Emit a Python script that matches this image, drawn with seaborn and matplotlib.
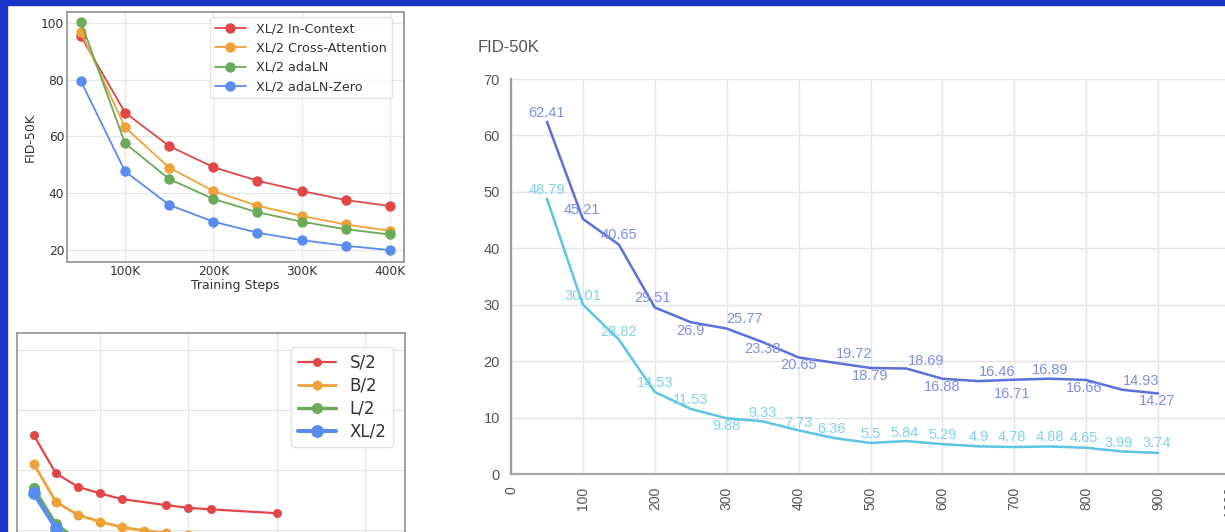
import matplotlib
matplotlib.use("Agg")
import matplotlib.pyplot as plt
import seaborn as sns
import pandas as pd
from matplotlib.patches import Rectangle

# ---------------- data ----------------
# top-left panel (training steps in K)
tl_steps = [50, 100, 150, 200, 250, 300, 350, 400]
tl_incontext = [95.3, 68.4, 56.6, 49.2, 44.4, 40.8, 37.6, 35.5]
tl_crossattn = [96.8, 63.2, 49.0, 40.8, 35.6, 32.0, 29.0, 26.8]
tl_adaln = [100.3, 57.6, 45.0, 38.0, 33.3, 30.0, 27.3, 25.5]
tl_adalnzero = [79.5, 47.7, 35.9, 30.0, 26.1, 23.5, 21.5, 20.0]
tl_names = ["XL/2 In-Context", "XL/2 Cross-Attention", "XL/2 adaLN", "XL/2 adaLN-Zero"]

# bottom-left panel (cropped)
bl_names = ["S/2", "B/2", "L/2", "XL/2"]
bl_s2_steps = [25, 50, 75, 100, 125, 175, 200, 225, 300]
bl_s2 = [111.6, 98.9, 94.4, 92.2, 90.3, 88.3, 87.4, 86.9, 85.6]
bl_b2_steps = [25, 50, 75, 100, 125, 150, 175, 200]
bl_b2 = [102.0, 89.4, 85.0, 82.8, 80.9, 79.8, 79.0, 78.3]
bl_l2_steps = [25, 50, 75, 100]
bl_l2 = [93.9, 82.0, 76.5, 74.0]
bl_xl2_steps = [25, 50, 75, 100]
bl_xl2 = [92.2, 80.6, 74.5, 71.5]

# right panel
r_steps = [50, 100, 150, 200, 250, 300, 350, 400, 450, 500,
           550, 600, 650, 700, 750, 800, 850, 900]
r_dark = [62.41, 45.21, 40.65, 29.51, 26.9, 25.77, 23.38, 20.65, 19.72, 18.79,
          18.69, 16.88, 16.46, 16.71, 16.89, 16.66, 14.93, 14.27]
r_light = [48.79, 30.01, 23.82, 14.53, 11.53, 9.88, 9.33, 7.73, 6.36, 5.5,
           5.84, 5.29, 4.9, 4.78, 4.88, 4.65, 3.99, 3.74]
r_title = "FID-50K"
r_xticks = [0, 100, 200, 300, 400, 500, 600, 700, 800, 900, 1000]
r_yticks = [0, 10, 20, 30, 40, 50, 60, 70]

# ---------------- style ----------------
sns.set_theme(style="whitegrid")
plt.rcParams["font.family"] = ["DejaVu Sans"]

W, H = 1225, 532
fig = plt.figure(figsize=(W / 100, H / 100), dpi=100)
fig.patch.set_facecolor("white")


def frac(x0, y0, x1, y1):
    return [x0 / W, 1 - y1 / H, (x1 - x0) / W, (y1 - y0) / H]


pal4 = ["#e04848", "#f0a23a", "#6aaa58", "#5a8cf0"]
frame_col = "#9a9a9a"
grid_col = "#e6e6e6"

# ---------- top-left ----------
ax1 = fig.add_axes(frac(67, 12, 404, 262))
tl_df = pd.DataFrame({
    "step": tl_steps * 4,
    "fid": tl_incontext + tl_crossattn + tl_adaln + tl_adalnzero,
    "model": sum([[n] * len(tl_steps) for n in tl_names], []),
})
sns.lineplot(data=tl_df, x="step", y="fid", hue="model", hue_order=tl_names,
             palette=pal4, marker="o", markersize=7.5, markeredgewidth=0,
             linewidth=1.3, ax=ax1)
ax1.set_xlim(34.3, 415.9)
ax1.set_ylim(15.8, 103.8)
ax1.set_xticks([100, 200, 300, 400])
ax1.set_xticklabels(["100K", "200K", "300K", "400K"])
ax1.set_yticks([20, 40, 60, 80, 100])
ax1.set_xlabel("Training Steps", fontsize=9, color="#333333", labelpad=1)
ax1.set_ylabel("FID-50K", fontsize=9, color="#333333", labelpad=3)
ax1.tick_params(labelsize=8.8, colors="#333333", length=0, pad=2)
ax1.grid(color=grid_col, linewidth=0.9)
for s in ax1.spines.values():
    s.set_color(frame_col)
    s.set_linewidth(1.3)
leg = ax1.legend(loc="upper right", fontsize=9.2, frameon=True,
                 borderaxespad=0.3, handlelength=2.4, labelspacing=0.5,
                 bbox_to_anchor=(0.975, 0.995))
leg.get_frame().set_edgecolor("#dddddd")
for t in leg.get_texts():
    t.set_color("#333333")

# ---------- bottom-left (cropped) ----------
ax2 = fig.add_axes(frac(17, 333, 405, 650))
bl_steps_all = [bl_s2_steps, bl_b2_steps, bl_l2_steps, bl_xl2_steps]
bl_vals_all = [bl_s2, bl_b2, bl_l2, bl_xl2]
bl_lw = [1.6, 2.0, 2.4, 2.9]
bl_ms = [6.5, 7.2, 8.0, 9.2]
for name, xs, ys, c, lw, ms in zip(bl_names, bl_steps_all, bl_vals_all, pal4, bl_lw, bl_ms):
    d = pd.DataFrame({"step": xs, "fid": ys})
    sns.lineplot(data=d, x="step", y="fid", color=c, marker="o", markersize=ms,
                 markeredgewidth=0, linewidth=lw, label=name, ax=ax2)
ax2.set_xlim(6, 445)
ax2.set_ylim(40, 145.7)
ax2.set_xticks([100, 200, 300, 400])
ax2.set_yticks([60, 80, 100, 120, 140])
ax2.tick_params(labelleft=False, labelbottom=False, length=0)
ax2.set_xlabel("")
ax2.set_ylabel("")
ax2.grid(color=grid_col, linewidth=0.9)
for s in ax2.spines.values():
    s.set_color(frame_col)
    s.set_linewidth(1.3)
leg2 = ax2.legend(loc="upper right", fontsize=12, frameon=True,
                  borderaxespad=0.35, handlelength=2.3, labelspacing=0.3,
                  bbox_to_anchor=(0.985, 0.975))
leg2.get_frame().set_edgecolor("#dddddd")
for t in leg2.get_texts():
    t.set_color("#333333")

# ---------- right ----------
ax3 = fig.add_axes(frac(511, 79, 1230, 474))
r_df = pd.DataFrame({
    "step": r_steps * 2,
    "fid": r_dark + r_light,
    "series": ["dark"] * len(r_steps) + ["light"] * len(r_steps),
})
line_cols = ["#5b70d8", "#5cc4e4"]
lab_cols = ["#7d90e2", "#7fd2ec"]
sns.lineplot(data=r_df, x="step", y="fid", hue="series", palette=line_cols,
             linewidth=1.8, legend=False, ax=ax3)
ax3.set_xlim(0, 1000)
ax3.set_ylim(0, 70)
ax3.set_xticks(r_xticks)
ax3.set_xticklabels([str(v) for v in r_xticks], rotation=90,
                    family=["Liberation Sans"], fontsize=10, color="#555555")
ax3.set_yticks(r_yticks)
ax3.set_yticklabels([str(v) for v in r_yticks], family=["Liberation Sans"],
                    fontsize=10.5, color="#555555")
ax3.tick_params(axis="x", length=0, pad=9)
ax3.tick_params(axis="y", length=0, pad=8)
ax3.set_xlabel("")
ax3.set_ylabel("")
ax3.set_facecolor("white")
ax3.grid(color="#e4e4ea", linewidth=1.0)
for k in ["top", "right"]:
    ax3.spines[k].set_visible(False)
ax3.spines["left"].set_color("#9a9a9a")
ax3.spines["left"].set_linewidth(1.6)
ax3.spines["bottom"].set_color("#a8a8a8")
ax3.spines["bottom"].set_linewidth(1.6)

# label offsets in pixels (dx, dy)
dark_off = [(0, 9), (-1, 9), (0, 10), (-2, 9), (0, -9), (18, 10), (0, -7), (0, -8),
            (20, 9), (0, -8), (20, 8), (0, -8), (19, 9), (-2, -14), (0, 9), (-2, -8),
            (19, 9), (-1, -8)]
light_off = [(0, 9), (0, 9), (0, 8), (0, 9), (0, 9), (0, -8), (0, 8), (0, 7),
             (-3, 9), (0, 9), (-2, 8), (0, 9), (0, 9), (-2, 10), (0, 9), (-2, 10),
             (-3, 8), (-1, 10)]
for xs, ys, offs, col in [(r_steps, r_dark, dark_off, lab_cols[0]),
                          (r_steps, r_light, light_off, lab_cols[1])]:
    for x, y, (dx, dy) in zip(xs, ys, offs):
        ax3.annotate(f"{y:g}", (x, y), xytext=(dx, dy), textcoords="offset pixels",
                     ha="center", va="center", fontsize=10.5, color=col,
                     family=["Liberation Sans"])

fig.text(478 / W, 1 - 48 / H, r_title, ha="left", va="center", fontsize=12,
         color="#555555", family=["Liberation Sans"])

# blue frame strips (top and left)
fig.patches.append(Rectangle((0, 1 - 5 / H), 1, 5 / H, transform=fig.transFigure,
                             color="#1a34c8", zorder=10))
fig.patches.append(Rectangle((0, 0), 7 / W, 1, transform=fig.transFigure,
                             color="#1a34c8", zorder=10))

fig.savefig("out.png", dpi=100, facecolor="white")
